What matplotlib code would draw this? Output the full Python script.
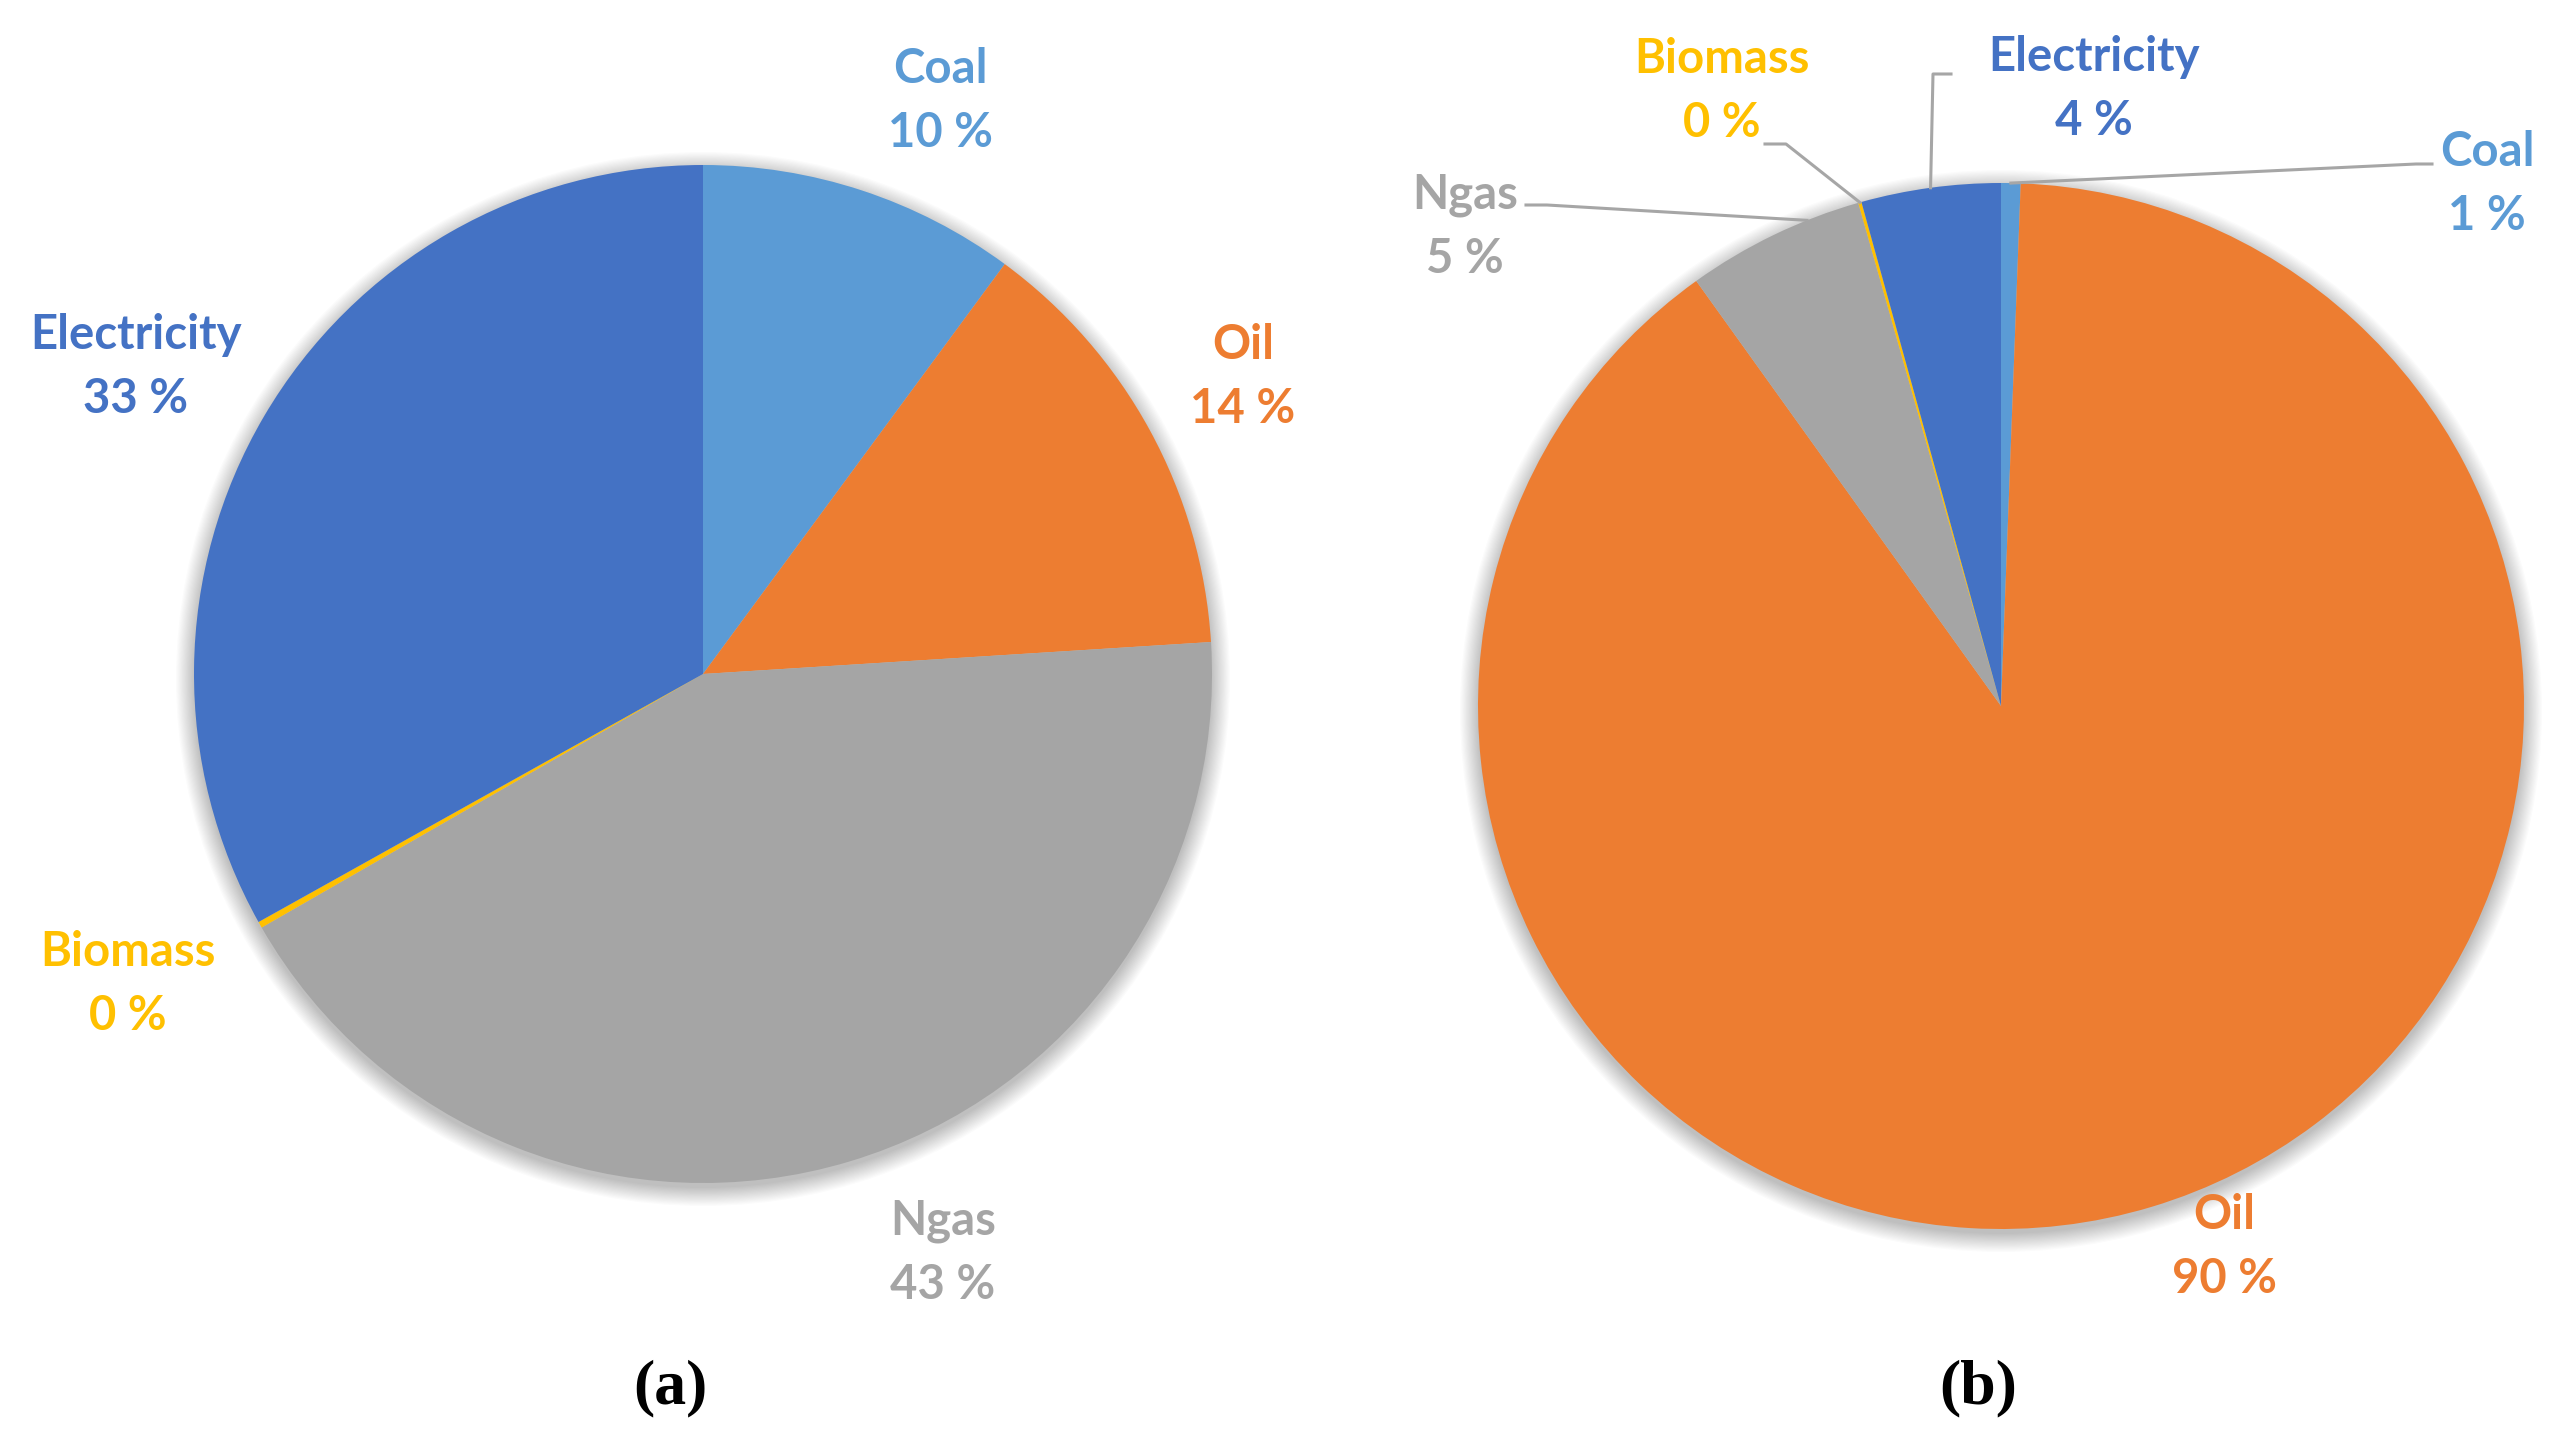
import numpy as np
import matplotlib
matplotlib.use("Agg")
import matplotlib.pyplot as plt
from matplotlib.patches import Circle

W, H = 2556, 1438

categories = ["Coal", "Oil", "Ngas", "Biomass", "Electricity"]
colors = {"Coal": "#5B9BD5", "Oil": "#ED7D31", "Ngas": "#A5A5A5",
          "Biomass": "#FFC000", "Electricity": "#4472C4"}

values_a = [10.1, 13.9, 42.7, 0.2, 33.1]
labels_a = ["10 %", "14 %", "43 %", "0 %", "33 %"]
values_b = [0.6, 89.5, 5.5, 0.1, 4.3]
labels_b = ["1 %", "90 %", "5 %", "0 %", "4 %"]
captions = ["(a)", "(b)"]

fig = plt.figure(figsize=(W / 100, H / 100), dpi=100)
ax = fig.add_axes([0, 0, 1, 1])
ax.set_xlim(0, W)
ax.set_ylim(0, H)
ax.set_aspect("equal")
ax.axis("off")


def Y(y):
    return H - y


def draw_pie(vals, cx, cy, r):
    # soft shadow
    for k in range(16):
        ax.add_patch(Circle((cx, Y(cy) - 5), r + 18 - k * 1.2, color="#000000",
                            alpha=0.014, lw=0, zorder=1))
    wedges, _ = ax.pie(vals, colors=[colors[c] for c in categories],
                       startangle=90, counterclock=False, center=(cx, Y(cy)),
                       radius=r, wedgeprops=dict(linewidth=0), frame=True)
    for w in wedges:
        w.set_zorder(2)
    return wedges


font = "Lato"
fs = 34


def label(x, y, name, pct):
    c = colors[name]
    ax.text(x, Y(y), name, color=c, fontsize=fs, family=font, weight="bold",
            ha="center", va="center", zorder=5)
    ax.text(x, Y(y + 64), pct, color=c, fontsize=fs, family=font, weight="bold",
            ha="center", va="center", zorder=5)


def edge_point(wedge, frac, cx, cy, r):
    t1, t2 = wedge.theta1, wedge.theta2
    a = np.deg2rad(t1 + (t2 - t1) * frac)
    return cx + r * np.cos(a), Y(cy) + r * np.sin(a)


# Pie (a)
cxa, cya, ra = 703, 674, 509
wa = draw_pie(values_a, cxa, cya, ra)
pos_a = {"Coal": (940, 69), "Oil": (1243, 345), "Ngas": (943, 1221),
         "Biomass": (128, 952), "Electricity": (136, 335)}
for name, pct in zip(categories, labels_a):
    label(*pos_a[name], name, pct)

# Pie (b)
cxb, cyb, rb = 2001, 706, 523
wb = draw_pie(values_b, cxb, cyb, rb)
pos_b = {"Coal": (2487, 152), "Oil": (2224, 1215), "Ngas": (1465, 195),
         "Biomass": (1722, 59), "Electricity": (2094, 57)}
for name, pct in zip(categories, labels_b):
    label(*pos_b[name], name, pct)

# leader lines for (b)
lc = "#A6A6A6"
lw = 2.2
# Coal
px, py = edge_point(wb[0], 0.5, cxb, cyb, rb)
ax.plot([2432, 2416, px], [Y(164), Y(164), py], color=lc, lw=lw, zorder=4)
# Ngas
px, py = edge_point(wb[2], 0.3, cxb, cyb, rb)
ax.plot([1526, 1547, px], [Y(205), Y(205), py], color=lc, lw=lw, zorder=4)
# Biomass
px, py = edge_point(wb[3], 0.5, cxb, cyb, rb)
ax.plot([1765, 1786, px], [Y(144), Y(144), py], color=lc, lw=lw, zorder=4)
# Electricity
px, py = edge_point(wb[4], 0.5, cxb, cyb, rb)
ax.plot([1951, 1933, px], [Y(74), Y(74), py], color=lc, lw=lw, zorder=4)

# captions
ax.text(670, Y(1388), captions[0], fontsize=46, family="Liberation Serif",
        weight="bold", ha="center", va="center", color="black")
ax.text(1978, Y(1388), captions[1], fontsize=46, family="Liberation Serif",
        weight="bold", ha="center", va="center", color="black")

ax.set_xlim(0, W)
ax.set_ylim(0, H)
ax.axis("off")
fig.savefig("out.png", dpi=100, facecolor="white")
